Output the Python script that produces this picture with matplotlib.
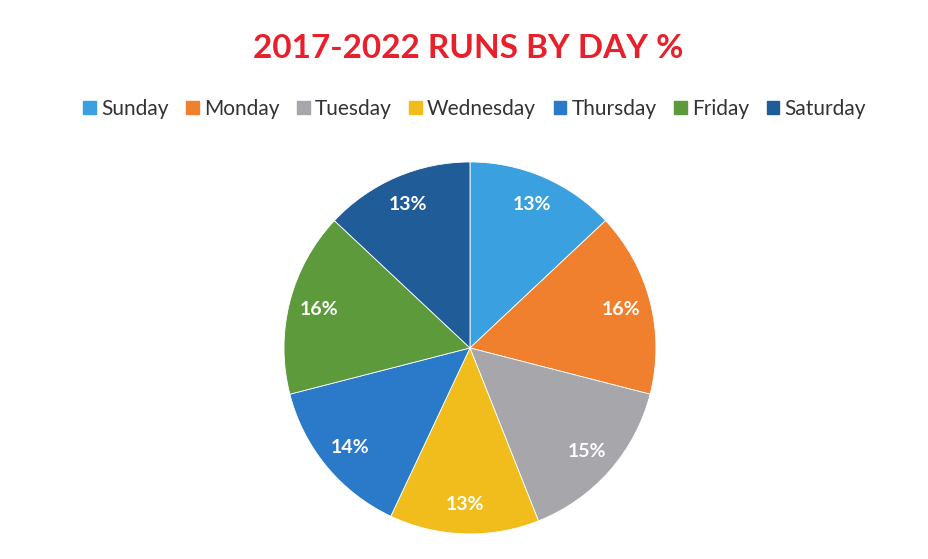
import matplotlib.pyplot as plt
from matplotlib.patches import Patch

days = ["Sunday", "Monday", "Tuesday", "Wednesday", "Thursday", "Friday", "Saturday"]
pcts = [13, 16, 15, 13, 14, 16, 13]
colors = ["#3aa0e0", "#f0802d", "#a6a6ab", "#f1bd1c", "#2b79c9", "#5c9a3c", "#1f5c98"]

plt.rcParams['font.family'] = ['Lato', 'DejaVu Sans']

fig = plt.figure(figsize=(9.29, 5.59), dpi=100)
ax = fig.add_axes([0.3057, 0.0448, 0.4004, 0.6655])

wedges, texts, autotexts = ax.pie(
	pcts, colors=colors, startangle=90, counterclock=False, radius=1,
	autopct=lambda p: "%d%%" % round(p), pctdistance=0.84,
	wedgeprops=dict(edgecolor="white", linewidth=0.6))
for t in autotexts:
	t.set_color("white")
	t.set_fontsize(14)
	t.set_fontweight("bold")
ax.set_xlim(-1, 1)
ax.set_ylim(-1, 1)
ax.set_aspect("equal")

fig.text(0.504, 0.914, "2017-2022 RUNS BY DAY %", color="#e8202c", fontsize=24,
	fontweight="bold", ha="center", va="center")

handles = [Patch(facecolor=c, edgecolor=c) for c in colors]
fig.legend(handles, days, loc="center", bbox_to_anchor=(0.511, 0.805), ncol=7,
	frameon=False, fontsize=15, handlelength=0.6, handleheight=0.6,
	handletextpad=0.25, columnspacing=0.85, labelcolor="#333333")

fig.savefig("out.png", dpi=100)
